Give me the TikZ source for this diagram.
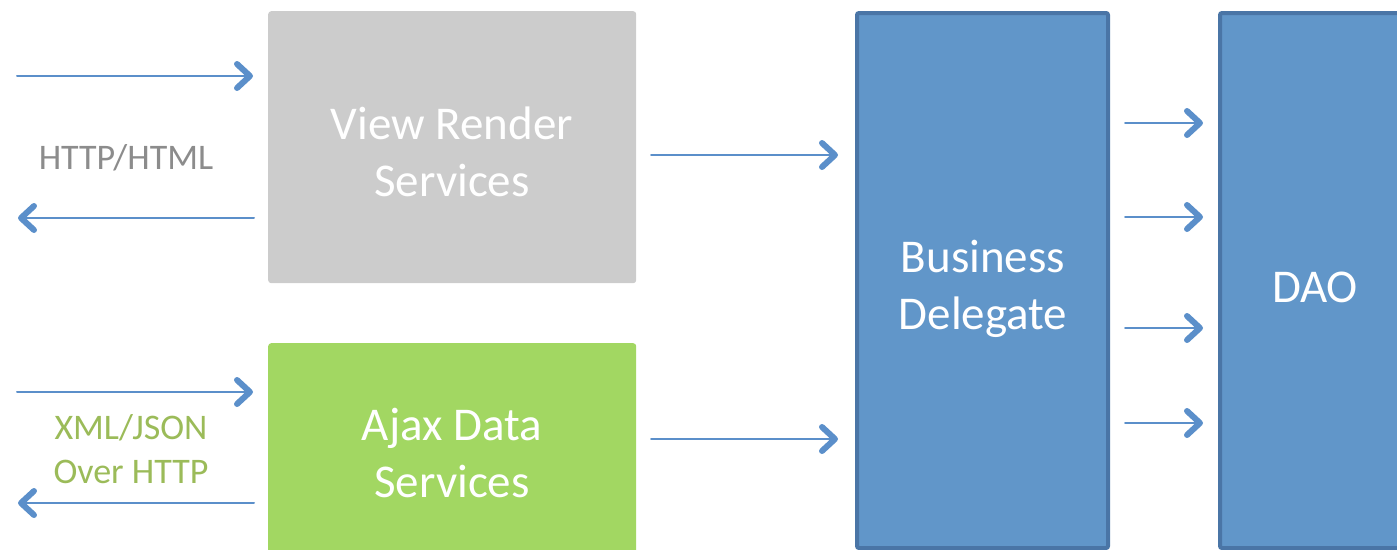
\documentclass[tikz,border=0pt]{standalone}
\usepackage{fontspec}
\setmainfont{Carlito}
\usetikzlibrary{arrows.meta}
\definecolor{boxgray}{HTML}{CCCCCC}
\definecolor{boxgreen}{HTML}{A2D762}
\definecolor{boxblue}{HTML}{6196C9}
\definecolor{blueedge}{HTML}{4A75A6}
\definecolor{arrowblue}{HTML}{5B8FCA}
\definecolor{labelgray}{HTML}{8C8C8C}
\definecolor{labelgreen}{HTML}{9BBB59}
\tikzset{
  flowarrow/.style={draw=arrowblue, line width=2pt, line cap=round,
    -{Straight Barb[length=13pt,width=24pt,line width=4pt 1,line cap=round,line join=round]}},
  servicebox/.style={rounded corners=3pt, draw=none, inner sep=0pt, anchor=north west},
  tierbox/.style={fill=boxblue, draw=blueedge, line width=4pt, rounded corners=2pt},
  boxtext/.style={text=white, font=\fontsize{47}{57}\selectfont, align=center, inner sep=0pt},
  labeltext/.style={font=\fontsize{36}{44}\selectfont, align=center, inner sep=0pt}
}
\begin{document}
\begin{tikzpicture}[x=1pt,y=-1pt]
\useasboundingbox (0,0) rectangle (1397,549);
\clip (0,0) rectangle (1397,549);
% service boxes
\node[servicebox, fill=boxgray, minimum width=368pt, minimum height=272pt] (view) at (268,11) {};
\node[servicebox, fill=boxgreen, minimum width=368pt, minimum height=240pt] (ajax) at (268,343) {};
% tier boxes
\draw[tierbox] (857,13) rectangle (1108,548);
\coordinate (bd) at (982,280);
\draw[tierbox] (1220,13) rectangle (1420,548);
\coordinate (dao) at (1315,280);
% box texts
\node[boxtext] (viewtext) at (452,152) {View Render\\Services};
\node[boxtext] (ajaxtext) at (452,453) {Ajax Data\\Services};
\node[boxtext] (bdtext) at (983,289) {Business\\Delegate};
\node[boxtext] (daotext) at (1315,287) {DAO};
% labels
\node[labeltext, text=labelgray] (httplabel) at (126,158) {HTTP/HTML};
\node[labeltext, text=labelgreen] (xmllabel) at (131,449) {XML/JSON\\Over HTTP};
% arrow end points
\coordinate (a1s) at (17,76);   \coordinate (a1e) at (253,76);
\coordinate (a2s) at (254,218); \coordinate (a2e) at (18,218);
\coordinate (a3s) at (651,155); \coordinate (a3e) at (838,155);
\coordinate (a4s) at (17,392);  \coordinate (a4e) at (253,392);
\coordinate (a5s) at (254,503); \coordinate (a5e) at (18,503);
\coordinate (a6s) at (651,439); \coordinate (a6e) at (838,439);
\coordinate (b1s) at (1125,123); \coordinate (b1e) at (1203,123);
\coordinate (b2s) at (1125,217); \coordinate (b2e) at (1203,217);
\coordinate (b3s) at (1125,328); \coordinate (b3e) at (1203,328);
\coordinate (b4s) at (1125,423); \coordinate (b4e) at (1203,423);
% arrows
\draw[flowarrow] (a1s) -- (a1e);
\draw[flowarrow] (a2s) -- (a2e);
\draw[flowarrow] (a3s) -- (a3e);
\draw[flowarrow] (a4s) -- (a4e);
\draw[flowarrow] (a5s) -- (a5e);
\draw[flowarrow] (a6s) -- (a6e);
\draw[flowarrow] (b1s) -- (b1e);
\draw[flowarrow] (b2s) -- (b2e);
\draw[flowarrow] (b3s) -- (b3e);
\draw[flowarrow] (b4s) -- (b4e);
\end{tikzpicture}
\end{document}
